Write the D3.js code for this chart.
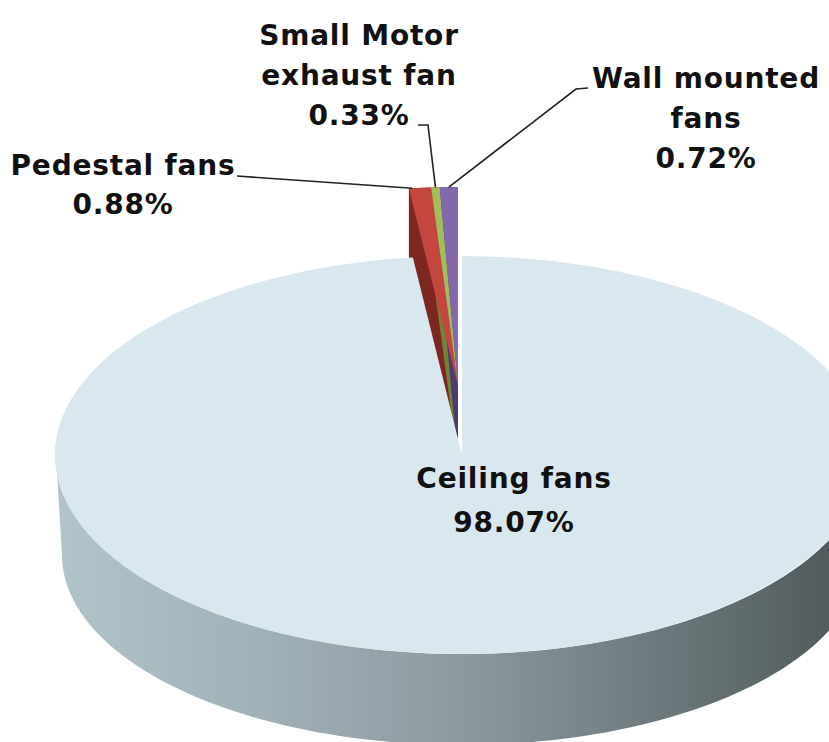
<!DOCTYPE html>
<html>
<head>
<meta charset="utf-8">
<script src="https://cdn.jsdelivr.net/npm/d3@7"></script>
<style>
  html, body { margin: 0; padding: 0; background: #ffffff; }
  svg { display: block; }
  .lbl { font-family: "DejaVu Sans", Verdana, sans-serif; font-weight: bold; font-size: 28px; fill: #111; letter-spacing: 0.8px; }
</style>
</head>
<body>
<svg id="chart" width="829" height="742"></svg>
<script>
// ---- data ----
const categories = ["Ceiling fans", "Pedestal fans", "Small Motor exhaust fan", "Wall mounted fans"];
const values = [98.07, 0.88, 0.33, 0.72];
const labelLines = [
  ["Ceiling fans", "98.07%"],
  ["Pedestal fans", "0.88%"],
  ["Small Motor", "exhaust fan", "0.33%"],
  ["Wall mounted", "fans", "0.72%"]
];
const exploded = [false, true, true, true];

// ---- styles / layout ----
const topColors  = ["#d8e8ee", "#c4463f", "#a3bd5a", "#8468ac"];
const sideColors = ["#8c9aa0", "#7e2622", "#6f8436", "#4e3a70"];
const cx = 462, cy = 455, rx = 406, ry = 199;        // top face ellipse
const bcx = 462, bcy = 555, brx = 400, bry = 190;    // bottom rim (front side)
const explodeDx = -4, explodeDy = -69;               // pull-out of small slices
const depthBack = 76;

const svg = d3.select("#chart");
const defs = svg.append("defs");

// side gradient
const grad = defs.append("linearGradient").attr("id", "sideGrad")
  .attr("gradientUnits", "userSpaceOnUse")
  .attr("x1", cx - rx).attr("x2", cx + rx).attr("y1", 0).attr("y2", 0);
[[0, "#b1c4ca"], [0.25, "#a0b1b7"], [0.5, "#8c9aa0"], [0.75, "#6c787b"], [1, "#4b5557"]]
  .forEach(([o, c]) => grad.append("stop").attr("offset", o).attr("stop-color", c));

const pie = d3.pie().sort(null).value(d => d);
const arcs = pie(values);

const topPt = (a, dx = 0, dy = 0) => [cx + rx * Math.sin(a) + dx, cy - ry * Math.cos(a) + dy];
const botPt = (a) => [bcx + brx * Math.sin(a), bcy - bry * Math.cos(a)];
const angleSamples = (a0, a1, n) => d3.range(n + 1).map(i => a0 + (a1 - a0) * i / n);
const line = d3.line();

const gPie = svg.append("g");
const unitArc = d3.arc().innerRadius(0).outerRadius(1);

// ---- small exploded slices: extrusions first ----
arcs.forEach((d, i) => {
  if (!exploded[i]) return;
  const pts = [[cx + explodeDx, cy + explodeDy]]
    .concat(angleSamples(d.startAngle, d.endAngle, 12).map(a => topPt(a, explodeDx, explodeDy)));
  const all = pts.concat(pts.map(p => [p[0], p[1] + depthBack]));
  const hull = d3.polygonHull(all);
  gPie.append("path").attr("d", line(hull) + "Z").attr("fill", sideColors[i]);
});
arcs.forEach((d, i) => {
  if (!exploded[i]) return;
  gPie.append("path")
    .attr("d", unitArc(d))
    .attr("transform", `translate(${cx + explodeDx},${cy + explodeDy}) scale(${rx},${ry})`)
    .attr("fill", topColors[i]);
});

// ---- big slice: front side wall ----
const big = arcs[0];
const frontA0 = Math.max(big.startAngle, Math.PI / 2), frontA1 = Math.min(big.endAngle, 3 * Math.PI / 2);
const sideTop = angleSamples(frontA0, frontA1, 120).map(a => topPt(a));
const sideBot = angleSamples(frontA1, frontA0, 120).map(a => botPt(a));
gPie.append("path").attr("d", line(sideTop.concat(sideBot)) + "Z").attr("fill", "url(#sideGrad)");

// big slice top face
gPie.append("path")
  .attr("d", unitArc(big))
  .attr("transform", `translate(${cx},${cy}) scale(${rx},${ry})`)
  .attr("fill", topColors[0]);

// ---- labels ----
const gLab = svg.append("g");
const labelPos = [
  { x: 514, y: 488, dy: 44 },
  { x: 123, y: 175, dy: 39 },
  { x: 359, y: 45, dy: 40 },
  { x: 706, y: 88, dy: 40 }
];
labelLines.forEach((ls, i) => {
  const t = gLab.append("text").attr("class", "lbl").attr("text-anchor", "middle");
  ls.forEach((s, k) => t.append("tspan").attr("x", labelPos[i].x).attr("y", labelPos[i].y + k * labelPos[i].dy).text(s));
});

// leader lines to slice tops
const mid = d => (d.startAngle + d.endAngle) / 2;
const anchor = i => topPt(mid(arcs[i]), explodeDx, explodeDy);
const pedAnchor = topPt(arcs[1].startAngle + (arcs[1].endAngle - arcs[1].startAngle) * 0.15, explodeDx, explodeDy);
const leaders = [
  [[237, 176], pedAnchor],
  [[418, 125], [428, 125], anchor(2)],
  [[588, 88], [576, 89], anchor(3)]
];
leaders.forEach(pts => {
  gLab.append("path").attr("d", line(pts)).attr("fill", "none").attr("stroke", "#222").attr("stroke-width", 1.6);
});
</script>
</body>
</html>
